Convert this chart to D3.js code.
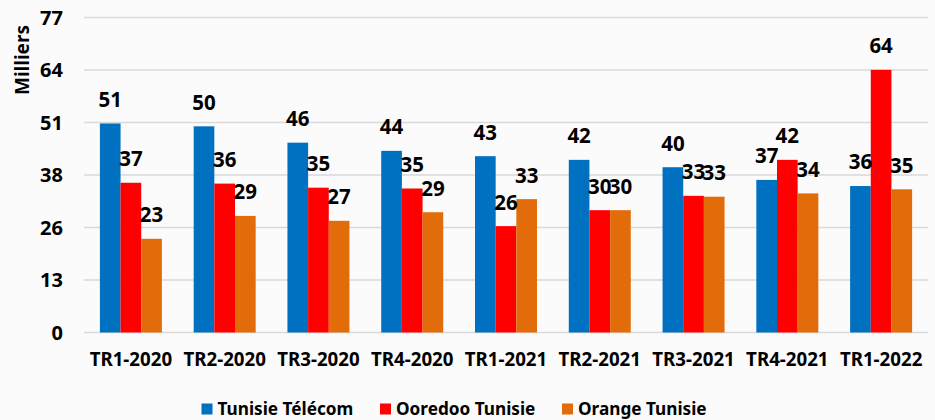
<!DOCTYPE html>
<html>
<head>
<meta charset="utf-8">
<script src="https://cdn.jsdelivr.net/npm/d3@7"></script>
<style>
  body { margin: 0; background: #fbfbfb; }
  text { font-family: "Noto Sans", sans-serif; font-weight: bold; fill: #000; }
</style>
</head>
<body>
<div id="chart"></div>
<script>
// data
const quarters = ["TR1-2020", "TR2-2020", "TR3-2020", "TR4-2020", "TR1-2021", "TR2-2021", "TR3-2021", "TR4-2021", "TR1-2022"];
const operators = ["Tunisie Télécom", "Ooredoo Tunisie", "Orange Tunisie"];
const tunisieTelecom = [51.1, 50.4, 46.4, 44.4, 43.1, 42.2, 40.4, 37.3, 35.8];
const ooredooTunisie = [36.6, 36.4, 35.4, 35.2, 26.0, 29.9, 33.4, 42.2, 64.2];
const orangeTunisie = [22.9, 28.5, 27.3, 29.4, 32.6, 29.9, 33.2, 34.0, 35.0];
const yTicks = [0, 77 / 6, 2 * 77 / 6, 3 * 77 / 6, 4 * 77 / 6, 5 * 77 / 6, 77];
const yTickLabels = ["0", "13", "26", "38", "51", "64", "77"];
const colors = ["#0070C0", "#FF0000", "#E36C0A"];

const width = 935, height = 420;
const margin = {top: 17.5, right: 7, bottom: 87.5, left: 84};
const series = [tunisieTelecom, ooredooTunisie, orangeTunisie];

const svg = d3.select("#chart").append("svg")
  .attr("width", width)
  .attr("height", height);

const x0 = d3.scaleBand()
  .domain(quarters)
  .range([margin.left, width - margin.right])
  .paddingInner(0.339)
  .paddingOuter(0.1695);

const x1 = d3.scaleBand()
  .domain(d3.range(operators.length))
  .range([0, x0.bandwidth()]);

const y = d3.scaleLinear()
  .domain([0, 77])
  .range([height - margin.bottom, margin.top]);

// gridlines
svg.append("g")
  .selectAll("line")
  .data(yTicks)
  .join("line")
  .attr("x1", margin.left)
  .attr("x2", width - margin.right)
  .attr("y1", d => y(d))
  .attr("y2", d => y(d))
  .attr("stroke", "#d9d9d9")
  .attr("stroke-width", 1.5);

// y axis labels
svg.append("g")
  .selectAll("text")
  .data(yTicks)
  .join("text")
  .attr("x", 63)
  .attr("y", d => y(d))
  .attr("dy", "0.36em")
  .attr("text-anchor", "end")
  .style("font-size", "20px")
  .text((d, i) => yTickLabels[i]);

svg.append("text")
  .attr("transform", "translate(29,60) rotate(-90)")
  .attr("text-anchor", "middle")
  .style("font-size", "19px")
  .text("Milliers");

// bars
const groups = svg.append("g")
  .selectAll("g")
  .data(quarters)
  .join("g")
  .attr("transform", d => `translate(${x0(d)},0)`);

groups.selectAll("rect")
  .data((q, i) => series.map((s, k) => ({k, v: s[i]})))
  .join("rect")
  .attr("x", d => x1(d.k))
  .attr("width", x1.bandwidth())
  .attr("y", d => y(d.v))
  .attr("height", d => y(0) - y(d.v))
  .attr("fill", d => colors[d.k]);

groups.selectAll("text")
  .data((q, i) => series.map((s, k) => ({k, v: s[i]})))
  .join("text")
  .attr("x", d => x1(d.k) + x1.bandwidth() / 2)
  .attr("y", d => y(d.v) - 24)
  .attr("dy", "0.36em")
  .attr("text-anchor", "middle")
  .style("font-size", "20.5px")
  .text(d => Math.round(d.v));

// x axis labels
svg.append("g")
  .selectAll("text")
  .data(quarters)
  .join("text")
  .attr("x", d => x0(d) + x0.bandwidth() / 2)
  .attr("y", 359)
  .attr("dy", "0.36em")
  .attr("text-anchor", "middle")
  .style("font-size", "18.7px")
  .text(d => d);

// legend
const legendX = [201.5, 380, 562];
const legend = svg.append("g")
  .selectAll("g")
  .data(operators)
  .join("g")
  .attr("transform", (d, i) => `translate(${legendX[i]},409)`);

legend.append("rect")
  .attr("x", 0)
  .attr("y", -5.5)
  .attr("width", 11)
  .attr("height", 11)
  .attr("fill", (d, i) => colors[i]);

legend.append("text")
  .attr("x", 16)
  .attr("y", 0)
  .attr("dy", "0.36em")
  .style("font-size", "17.2px")
  .text(d => d);
</script>
</body>
</html>
